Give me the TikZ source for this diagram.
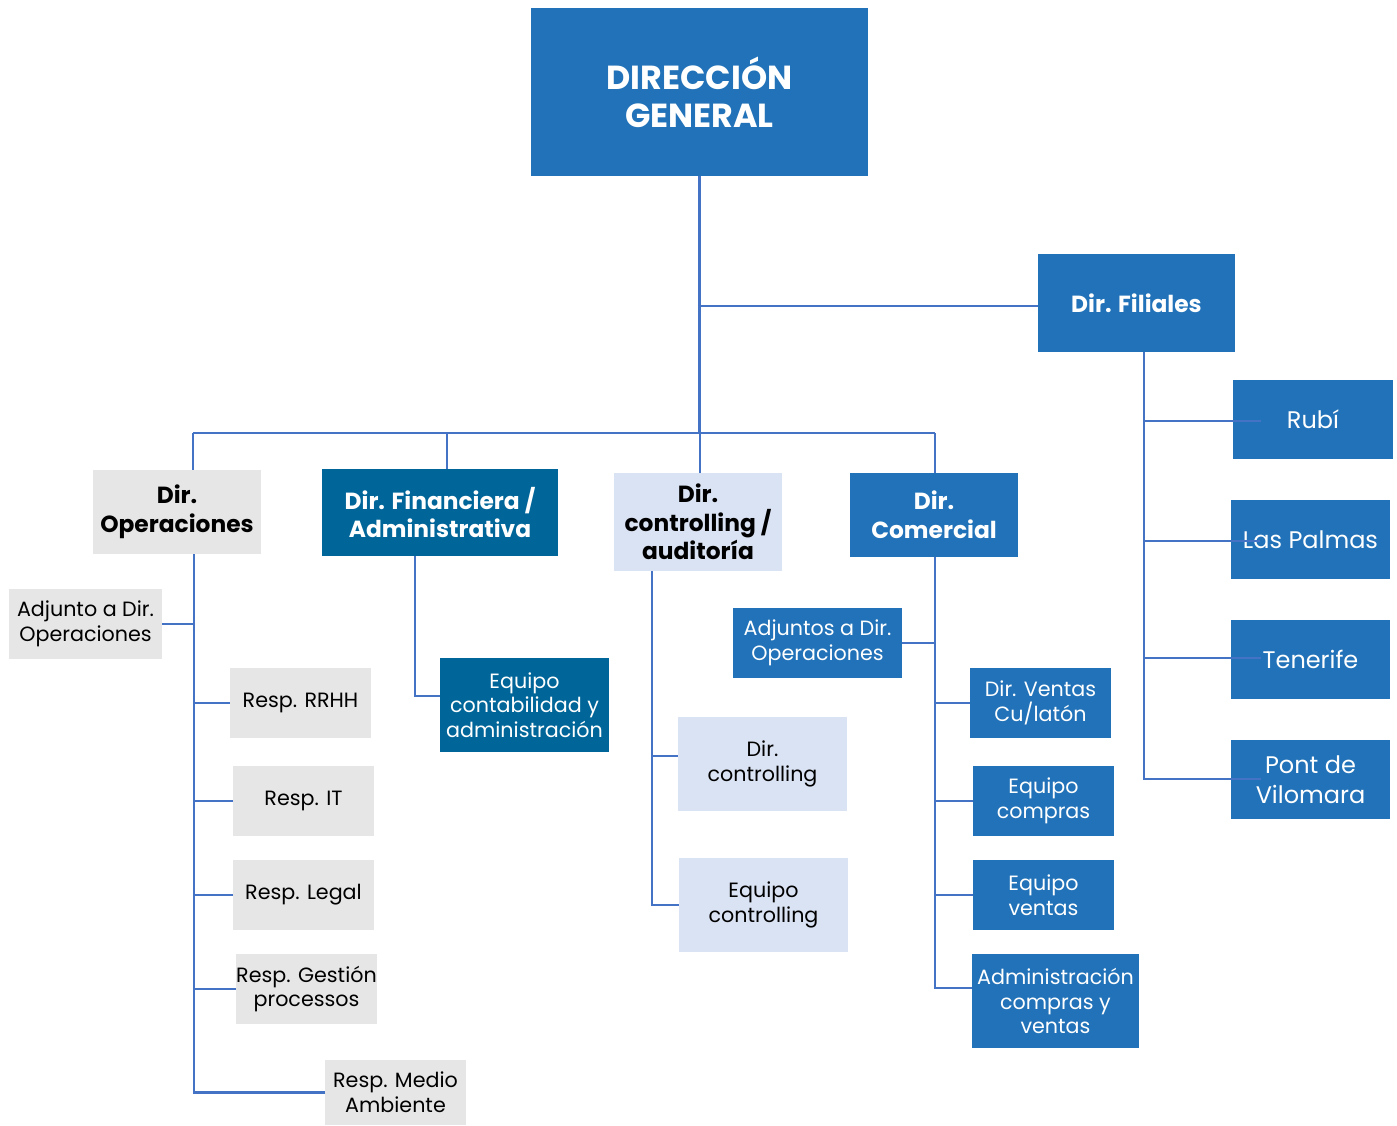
\documentclass[tikz,border=0pt]{standalone}
\usepackage{fontspec}
\setmainfont{Poppins}
\definecolor{blueA}{RGB}{33,114,184}
\definecolor{tealA}{RGB}{0,102,153}
\definecolor{grayA}{RGB}{230,230,230}
\definecolor{lblue}{RGB}{218,227,243}
\definecolor{lineC}{RGB}{68,114,196}
\tikzset{
  box/.style={inner sep=0pt, align=center, anchor=center},
  bluebox/.style={box, fill=blueA, text=white},
  tealbox/.style={box, fill=tealA, text=white},
  graybox/.style={box, fill=grayA, text=black},
  lbbox/.style={box, fill=lblue, text=black},
  big/.style={font=\fontsize{25}{28.5}\selectfont\bfseries},
  lvl/.style={font=\fontsize{17.5}{21.5}\selectfont\bfseries},
  sm/.style={font=\fontsize{15.5}{18.5}\selectfont},
  fl/.style={font=\fontsize{18}{22.5}\selectfont},
  conn/.style={draw=lineC, line width=2.2pt},
}
\begin{document}
\begin{tikzpicture}[x=0.75pt,y=-0.75pt]
\useasboundingbox (0,0) rectangle (1397,1126);
% top
\node[bluebox,big,minimum width=252.75pt,minimum height=126pt] (dg) at (699.5,92) {DIRECCIÓN\\GENERAL};
\node[bluebox,lvl,minimum width=147.75pt,minimum height=73.5pt] (fil) at (1136.5,303) {Dir. Filiales};
% filiales children
\node[bluebox,fl,minimum width=120pt,minimum height=59.25pt] (rubi) at (1313,419.5) {Rubí};
\node[bluebox,fl,minimum width=119.25pt,minimum height=59.25pt] (palmas) at (1310.5,539.5) {Las Palmas};
\node[bluebox,fl,minimum width=119.25pt,minimum height=59.25pt] (tene) at (1310.5,659.5) {Tenerife};
\node[bluebox,fl,minimum width=119.25pt,minimum height=59.25pt] (pont) at (1310.5,779.5) {Pont de\\Vilomara};
% level 2
\node[graybox,lvl,minimum width=126pt,minimum height=63pt] (dop) at (177,512) {Dir.\\Operaciones};
\node[tealbox,lvl,minimum width=177pt,minimum height=65.25pt] (dfin) at (440,512.5) {Dir. Financiera /\\Administrativa};
\node[lbbox,lvl,minimum width=126pt,minimum height=73.5pt] (dctl) at (698,522) {Dir.\\controlling /\\auditoría};
\node[bluebox,lvl,minimum width=126pt,minimum height=63pt] (dcom) at (934,515) {Dir.\\Comercial};
% operaciones children
\node[graybox,sm,minimum width=114.75pt,minimum height=52.5pt] (adj) at (85.5,624) {Adjunto a Dir.\\Operaciones};
\node[graybox,sm,minimum width=105.75pt,minimum height=52.5pt] (rrhh) at (300.5,703) {Resp. RRHH};
\node[graybox,sm,minimum width=105.75pt,minimum height=52.5pt] (it) at (303.5,801) {Resp. IT};
\node[graybox,sm,minimum width=105.75pt,minimum height=52.5pt] (legal) at (303.5,895) {Resp. Legal};
\node[graybox,sm,minimum width=105.75pt,minimum height=52.5pt] (gest) at (306.5,989) {Resp. Gestión\\processos};
\node[graybox,sm,minimum width=105.75pt,minimum height=48.75pt] (medio) at (395.5,1092.5) {Resp. Medio\\Ambiente};
% financiera child
\node[tealbox,sm,minimum width=126.75pt,minimum height=70.5pt] (eqcont) at (524.5,705) {Equipo\\contabilidad y\\administración};
% controlling children
\node[lbbox,sm,minimum width=126.75pt,minimum height=70.5pt] (dctl2) at (762.5,764) {Dir.\\controlling};
\node[lbbox,sm,minimum width=126.75pt,minimum height=70.5pt] (eqctl) at (763.5,905) {Equipo\\controlling};
% comercial children
\node[bluebox,sm,minimum width=126.75pt,minimum height=52.5pt] (adjs) at (817.5,643) {Adjuntos a Dir.\\Operaciones};
\node[bluebox,sm,minimum width=105.75pt,minimum height=52.5pt] (dven) at (1040.5,703) {Dir. Ventas\\Cu/latón};
\node[bluebox,sm,minimum width=105.75pt,minimum height=52.5pt] (eqcomp) at (1043.5,801) {Equipo\\compras};
\node[bluebox,sm,minimum width=105.75pt,minimum height=52.5pt] (eqven) at (1043.5,895) {Equipo\\ventas};
\node[bluebox,sm,minimum width=125.25pt,minimum height=70.5pt] (admin) at (1055.5,1001) {Administración\\compras y\\ventas};
% connectors
\coordinate (busL) at (193,433);
\coordinate (busR) at (935,433);
\coordinate (filJ) at (700,306);
\draw[conn] (dg.south) -- (dg.south |- busL);
\draw[conn] (busL) -- (busR);
\draw[conn] (filJ) -- (filJ -| fil.west);
\draw[conn] (busL) -- (busL |- dop.north);
\draw[conn] (447,433) -- (447,0 |- dfin.north);
\draw[conn] (700,433) -- (700,0 |- dctl.north);
\draw[conn] (busR) -- (busR |- dcom.north);
% operaciones
\draw[conn] (194,0 |- dop.south) -- (194,0 |- medio.west) -- (medio.west);
\draw[conn] (adj.east) -- (194,0 |- adj.east);
\draw[conn] (194,0 |- rrhh.west) -- (rrhh.west);
\draw[conn] (194,0 |- it.west) -- (it.west);
\draw[conn] (194,0 |- legal.west) -- (legal.west);
\draw[conn] (194,0 |- gest.west) -- (gest.west);
% financiera
\draw[conn] (415,0 |- dfin.south) -- (415,696) -- (eqcont.west |- 415,696);
% controlling
\draw[conn] (652,0 |- dctl.south) -- (652,0 |- eqctl.west) -- (eqctl.west);
\draw[conn] (652,756) -- (dctl2.west |- 652,756);
% comercial
\draw[conn] (935,0 |- dcom.south) -- (935,988) -- (admin.west |- 935,988);
\draw[conn] (adjs.east) -- (935,0 |- adjs.east);
\draw[conn] (935,0 |- dven.west) -- (dven.west);
\draw[conn] (935,0 |- eqcomp.west) -- (eqcomp.west);
\draw[conn] (935,0 |- eqven.west) -- (eqven.west);
% filiales
\draw[conn] (1144,0 |- fil.south) -- (1144,779) -- ([xshift=23pt]pont.west |- 1144,779);
\draw[conn] (1144,421) -- ([xshift=21pt]rubi.west |- 1144,421);
\draw[conn] (1144,541) -- ([xshift=22pt]palmas.west |- 1144,541);
\draw[conn] (1144,658) -- ([xshift=23pt]tene.west |- 1144,658);
\end{tikzpicture}
\end{document}
